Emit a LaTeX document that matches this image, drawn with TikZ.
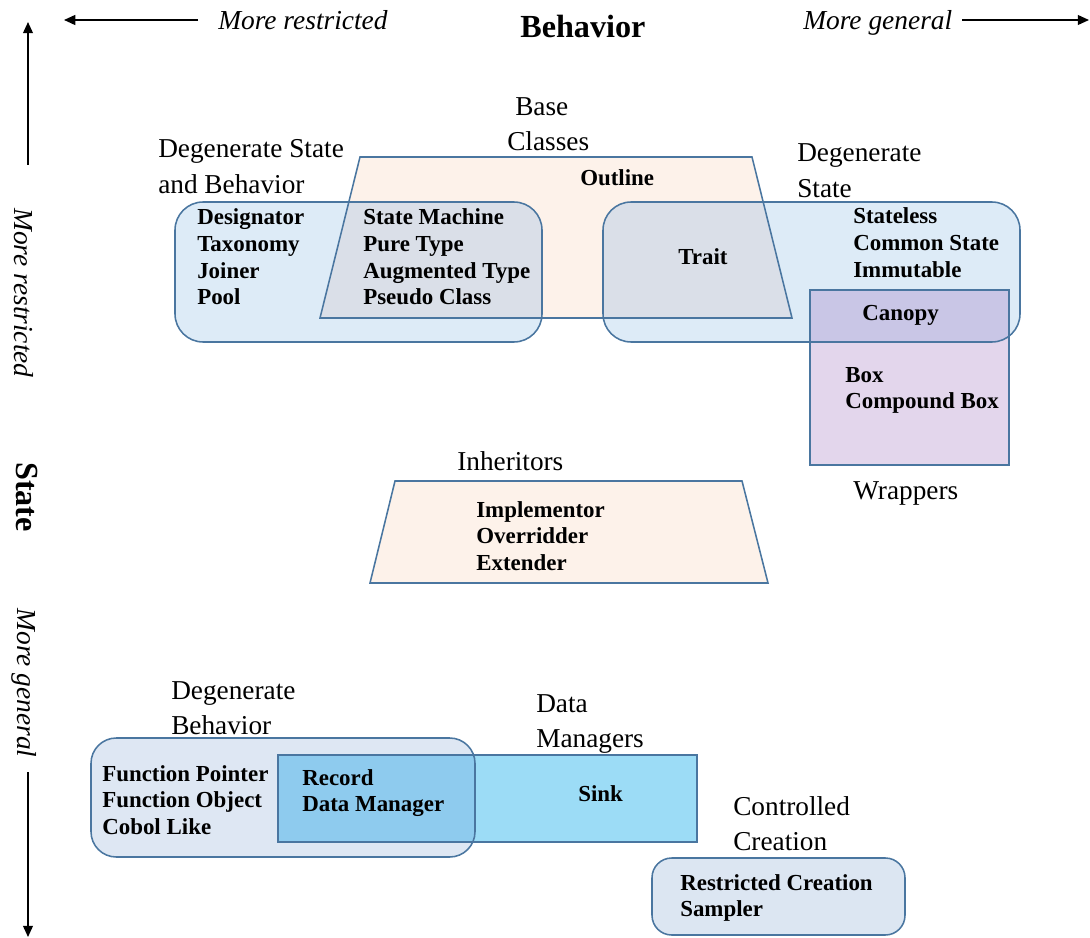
\documentclass[tikz,border=0pt]{standalone}
\usepackage{fontspec}
\setmainfont{Liberation Serif}
\usetikzlibrary{arrows.meta}

\definecolor{edge}{HTML}{4A76A0}
\definecolor{peach}{HTML}{FDF2EA}
\definecolor{paleblue}{HTML}{DDEBF7}
\definecolor{bluepeach}{HTML}{DADFE8}
\definecolor{lilac}{HTML}{E3D6EC}
\definecolor{lilacblue}{HTML}{C9C6E6}
\definecolor{greyblue}{HTML}{DEE7F3}
\definecolor{sky}{HTML}{9CDCF6}
\definecolor{skydeep}{HTML}{8ECBEE}
\definecolor{creation}{HTML}{DCE6F2}

% left-aligned block of lines, baseline on its first line
\newcommand{\textlines}[1]{\begin{tabular}[t]{@{}l@{}}#1\end{tabular}}

\tikzset{
  shapeedge/.style={draw=edge, line width=1.1pt},
  itemtext/.style={anchor=base west, inner sep=0pt,
    font=\fontsize{16.3}{18.85}\selectfont\bfseries},
  grouptext/.style={anchor=base west, inner sep=0pt,
    font=\fontsize{19.4}{24.9}\selectfont},
  axistext/.style={inner sep=0pt, font=\fontsize{19.5}{24}\selectfont\itshape},
  axistitle/.style={inner sep=0pt, font=\fontsize{22.9}{26}\selectfont\bfseries},
  axisarrow/.style={line width=1.2pt, -{Triangle[length=8pt,width=7pt]}},
}

\begin{document}
\begin{tikzpicture}[x=0.025cm,y=-0.025cm]
\useasboundingbox (0,0) rectangle (1090,938);

% ---------- axes ----------
\coordinate (hleftA) at (198,20);
\coordinate (hleftB) at (64,20);
\coordinate (hrightA) at (962,20);
\coordinate (hrightB) at (1089,20);
\coordinate (vupA) at (28,165);
\coordinate (vupB) at (28,22);
\coordinate (vdownA) at (28,772);
\coordinate (vdownB) at (28,937);
\draw[axisarrow] (hleftA) -- (hleftB);
\draw[axisarrow] (hrightA) -- (hrightB);
\draw[axisarrow] (vupA) -- (vupB);
\draw[axisarrow] (vdownA) -- (vdownB);

\node[axistext, anchor=base west] (restrH) at (218,30) {More restricted};
\node[axistext, anchor=base west] (generalH) at (803,30) {More general};
\node[axistitle, anchor=base west] (behavior) at (520,38) {Behavior};
\node[axistext, rotate=-90] (restrV) at (24,293) {More restricted};
\node[axistitle, rotate=-90] (stateV) at (27,497) {State};
\node[axistext, rotate=-90] (generalV) at (24,683) {More general};

% ---------- upper group: base classes and degenerate kinds ----------
\fill[peach] (360,157) -- (752,157) -- (792,318) -- (320,318) -- cycle;
\fill[paleblue, rounded corners=20pt] (175,202) rectangle (542,342);
\fill[paleblue, rounded corners=20pt] (603,202) rectangle (1020,342);
\begin{scope}
  \clip (360,157) -- (752,157) -- (792,318) -- (320,318) -- cycle;
  \fill[bluepeach, rounded corners=20pt] (175,202) rectangle (542,342);
  \fill[bluepeach, rounded corners=20pt] (603,202) rectangle (1020,342);
\end{scope}
\fill[lilac] (810,290) rectangle (1009,465);
\begin{scope}
  \clip[rounded corners=20pt] (603,202) rectangle (1020,342);
  \fill[lilacblue] (810,290) rectangle (1009,465);
\end{scope}
\draw[shapeedge] (360,157) -- (752,157) -- (792,318) -- (320,318) -- cycle;
\draw[shapeedge, rounded corners=20pt] (175,202) rectangle (542,342);
\draw[shapeedge, rounded corners=20pt] (603,202) rectangle (1020,342);
\draw[shapeedge] (810,290) rectangle (1009,465);

\node[grouptext] (baseA) at (515,116) {Base};
\node[grouptext] (baseB) at (507,151) {Classes};
\node[grouptext] (degSB) at (158,158) {\textlines{Degenerate State\\and Behavior}};
\node[grouptext] (degS) at (797,162) {\textlines{Degenerate\\State}};
\node[grouptext] (wrappers) at (853,499) {Wrappers};

\node[itemtext] (outline) at (580,186) {Outline};
\node[itemtext] (designator) at (197,225) {\textlines{Designator\\Taxonomy\\Joiner\\Pool}};
\node[itemtext] (statemachine) at (363,225) {\textlines{State Machine\\Pure Type\\Augmented Type\\Pseudo Class}};
\node[itemtext] (trait) at (678,264) {Trait};
\node[itemtext] (stateless) at (853,224) {\textlines{Stateless\\Common State\\Immutable}};
\node[itemtext] (canopy) at (862,320) {Canopy};
\node[itemtext] (box) at (845,382) {\textlines{Box\\Compound Box}};

% ---------- inheritors ----------
\fill[peach] (395,481) -- (742,481) -- (768,583) -- (370,583) -- cycle;
\draw[shapeedge] (395,481) -- (742,481) -- (768,583) -- (370,583) -- cycle;
\node[grouptext] (inheritors) at (457,470) {Inheritors};
\node[itemtext] (implementor) at (476,517) {\textlines{Implementor\\Overridder\\Extender}};

% ---------- lower group ----------
\fill[greyblue, rounded corners=18pt] (91,738) rectangle (475,857);
\fill[sky] (278,755) rectangle (697,842);
\begin{scope}
  \clip[rounded corners=18pt] (91,738) rectangle (475,857);
  \fill[skydeep] (278,755) rectangle (697,842);
\end{scope}
\draw[shapeedge] (278,755) rectangle (697,842);
\draw[shapeedge, rounded corners=18pt] (91,738) rectangle (475,857);

\fill[creation, rounded corners=14pt] (652,858) rectangle (905,935);
\draw[shapeedge, rounded corners=14pt] (652,858) rectangle (905,935);

\node[grouptext] (degB) at (171,699) {\textlines{Degenerate\\Behavior}};
\node[grouptext] (dataman) at (536,712) {\textlines{Data\\Managers}};
\node[grouptext] (controlled) at (733,815) {\textlines{Controlled\\Creation}};

\node[itemtext] (funcptr) at (102,781) {\textlines{Function Pointer\\Function Object\\Cobol Like}};
\node[itemtext] (record) at (302,785) {\textlines{Record\\Data Manager}};
\node[itemtext] (sink) at (578,801) {Sink};
\node[itemtext] (restricted) at (680,890) {\textlines{Restricted Creation\\Sampler}};
\end{tikzpicture}
\end{document}
